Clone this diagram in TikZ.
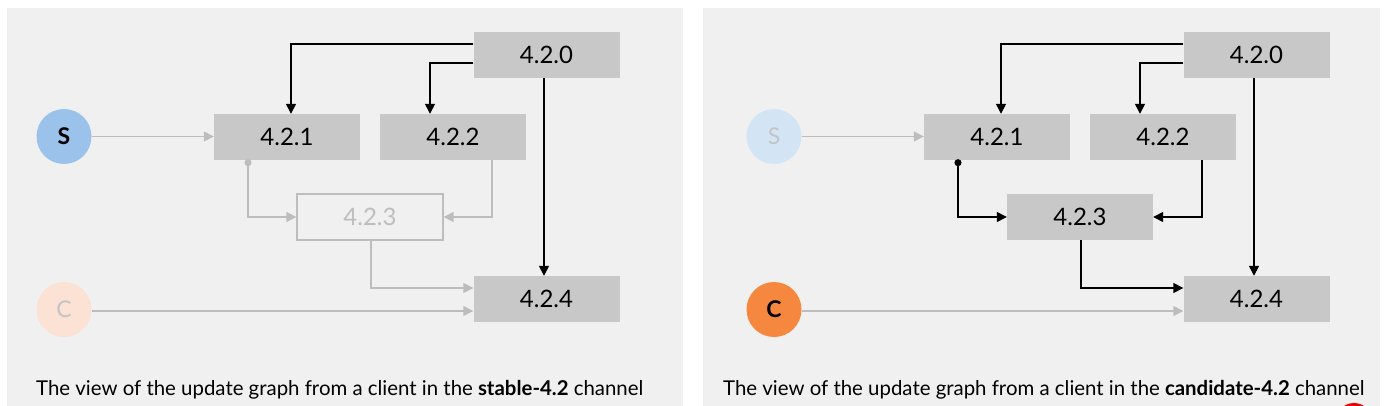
\documentclass[tikz,border=0pt]{standalone}
\usepackage{fontspec}
\setmainfont{Lato}
\usetikzlibrary{arrows.meta,calc}
\definecolor{panelbg}{HTML}{F0F0F0}
\definecolor{boxfill}{HTML}{C8C8C8}
\definecolor{lineg}{HTML}{BDBDBD}
\definecolor{sblue}{HTML}{9BC2EA}
\definecolor{sbluepale}{HTML}{D3E5F5}
\definecolor{corange}{HTML}{F6873E}
\definecolor{cpale}{HTML}{FCE1D5}
\definecolor{paletext}{HTML}{C4C4C4}
\definecolor{redmark}{HTML}{EE0000}
\tikzset{
  ver/.style={minimum width=146pt,minimum height=46pt,inner sep=0pt,font=\fontsize{24}{28}\selectfont},
  verbox/.style={ver,fill=boxfill,text=black},
  verghost/.style={ver,draw=lineg,line width=1.3pt,fill=panelbg,text=lineg},
  client/.style={circle,minimum size=55pt,inner sep=0pt,font=\bfseries\fontsize{23}{26}\selectfont},
  blk/.style={draw=black,line width=1.4pt,-{Triangle[length=10pt,width=10pt]}},
  gry/.style={draw=lineg,line width=1.4pt,-{Triangle[length=10pt,width=10pt]}},
  caption/.style={anchor=base west,inner sep=0pt,font=\fontsize{20.4}{24}\selectfont},
}
\begin{document}
\begin{tikzpicture}[x=1pt,y=-1pt]
\useasboundingbox (0,0) rectangle (1386,406);
\begin{scope}
\clip (0,0) rectangle (1386,406);
\fill[white] (0,0) rectangle (1386,406);
\fill[panelbg] (7,8) rectangle (683,406);
\fill[panelbg] (703,8) rectangle (1380,406);

% ---------- left panel (stable) ----------
\node[verbox] (a0) at (546.5,55) {4.2.0};
\node[verbox] (a1) at (287,137) {4.2.1};
\node[verbox] (a2) at (453,137) {4.2.2};
\node[verghost] (a3) at (370,217) {4.2.3};
\node[verbox] (a4) at (546.5,299) {4.2.4};
\node[client,fill=sblue,text=black] (as) at (64,136.5) {S};
\node[client,fill=cpale,text=paletext,font=\fontsize{23}{26}\selectfont] (ac) at (64,309.5) {C};

\draw[blk] (a0.west |- 0,44) -| (a1.north -| 291,0);
\draw[blk] (a0.west |- 0,63) -| (a2.north -| 430,0);
\draw[blk] (a0.south -| 544,0) -- (a4.north -| 544,0);
\draw[gry] (as.east) -- (a1.west |- as.east);
\draw[gry,{Circle[length=7pt]}-{Triangle[length=10pt,width=10pt]}] (a1.south -| 248,0) ++(0,-1) |- (a3.west);
\draw[gry] (a2.south -| 492,0) |- (a3.east);
\draw[gry] (a3.south -| 371,0) |- (a4.west |- 0,288);
\draw[gry] (ac.east |- 0,311) -- (a4.west |- 0,311);

\node[caption] (acap) at (36,395) {The view of the update graph from a client in the \textbf{stable-4.2} channel};

% ---------- right panel (candidate) ----------
\node[verbox] (b0) at (1256.5,55) {4.2.0};
\node[verbox] (b1) at (997,137) {4.2.1};
\node[verbox] (b2) at (1163,137) {4.2.2};
\node[verbox] (b3) at (1080,217) {4.2.3};
\node[verbox] (b4) at (1256.5,299) {4.2.4};
\node[client,fill=sbluepale,text=paletext,font=\fontsize{23}{26}\selectfont] (bs) at (774,136.5) {S};
\node[client,fill=corange,text=black] (bc) at (774,309.5) {C};

\draw[blk] (b0.west |- 0,44) -| (b1.north -| 1001,0);
\draw[blk] (b0.west |- 0,63) -| (b2.north -| 1140,0);
\draw[blk] (b0.south -| 1254,0) -- (b4.north -| 1254,0);
\draw[gry] (bs.east) -- (b1.west |- bs.east);
\draw[blk,{Circle[length=7pt]}-{Triangle[length=10pt,width=10pt]}] (b1.south -| 958,0) ++(0,-1) |- (b3.west);
\draw[blk] (b2.south -| 1202,0) |- (b3.east);
\draw[blk] (b3.south -| 1081,0) |- (b4.west |- 0,288);
\draw[gry] (bc.east |- 0,311) -- (b4.west |- 0,311);

\node[caption] (bcap) at (723,395) {The view of the update graph from a client in the \textbf{candidate-4.2} channel};

% partial red mark at the bottom edge
\fill[redmark] (1354,421) circle (18);
\end{scope}
\end{tikzpicture}
\end{document}
